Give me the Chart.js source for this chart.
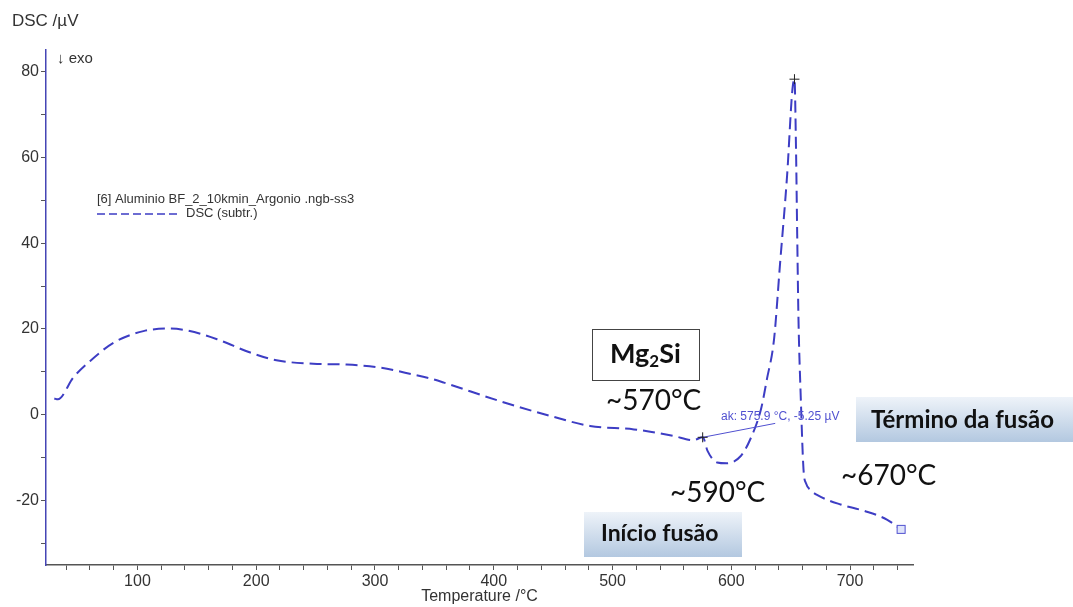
<!DOCTYPE html>
<html>
<head>
<meta charset="utf-8">
<title>DSC - Aluminio BF_2 10 K/min Argonio</title>
<script src="https://cdn.jsdelivr.net/npm/chart.js@4/dist/chart.umd.min.js"></script>
<style>
  html, body { margin: 0; padding: 0; background: #fff; }
  #wrap { width: 1073px; height: 607px; }
</style>
</head>
<body>
<div id="wrap"><canvas id="dscChart" width="1073" height="607"></canvas></div>
<script>
// DSC curve (subtracted), temperature in °C, signal in µV
const temperature = [30, 33, 46, 60, 80, 105, 127, 141, 167, 195, 217, 248, 276, 304, 332, 346, 358,
  405, 448, 481, 518, 551, 568, 576, 580, 588, 596, 608, 616, 625, 630, 636, 641, 647, 651.5, 653.2,
  654.5, 655.5, 656.6, 658.5, 660.8, 663, 667, 673, 692, 712, 731, 743];
const dscSignal = [3.8, 3.6, 8.7, 12.5, 16.8, 19.5, 20.1, 19.7, 17.6, 14.5, 12.7, 11.9, 11.7, 11.0, 9.4, 8.5, 7.5,
  3.2, -0.3, -2.6, -3.4, -4.9, -5.9, -5.25, -8.4, -11.1, -11.3, -9.6, -5.7, 1.3, 8.3, 17.6, 35, 55.8, 75.9, 78.2,
  62, 42, 22, 4, -12.7, -16, -17.6, -18.8, -20.9, -22.4, -24.4, -26.7];

// evaluated onset peak and its baseline tangent
const onsetPeak = [575.9, -5.25];
const tangentEnd = [637, -2.0];

const xTickLabels = [100, 200, 300, 400, 500, 600, 700];
const yTickLabels = [-20, 0, 20, 40, 60, 80];

const LINE_BLUE = '#3d3dc4';
const AXIS_FONT = 'Liberation Sans, Arial, sans-serif';
const NOTE_FONT = 'Lato, "Open Sans", sans-serif';

// tick marks every `step` inside [min, max]
function stepTicks(min, max, step) {
  const out = [];
  for (let v = Math.ceil(min / step) * step; v <= max; v += step) out.push({ value: v });
  return out;
}

function gradientBox(ctx, x, y, w, h) {
  const g = ctx.createLinearGradient(0, y, 0, y + h);
  g.addColorStop(0, '#eef3f9');
  g.addColorStop(1, '#b3c8e0');
  ctx.fillStyle = g;
  ctx.fillRect(x, y, w, h);
}

function cross(ctx, px, py, size) {
  ctx.beginPath();
  ctx.moveTo(px - size, py);
  ctx.lineTo(px + size, py);
  ctx.moveTo(px, py - size);
  ctx.lineTo(px, py + size);
  ctx.stroke();
}

const overlay = {
  id: 'overlay',
  afterDatasetsDraw(chart) {
    const { ctx, scales: { x, y } } = chart;
    ctx.save();

    // axis captions
    ctx.fillStyle = '#333';
    ctx.textBaseline = 'middle';
    ctx.textAlign = 'left';
    ctx.font = '17px ' + AXIS_FONT;
    ctx.fillText('DSC /µV', 12, 21);
    ctx.font = '15px ' + AXIS_FONT;
    ctx.fillText('↓ exo', 57, 59);

    // legend
    ctx.font = '13px ' + AXIS_FONT;
    ctx.fillText('[6] Aluminio BF_2_10kmin_Argonio .ngb-ss3', 97, 199);
    ctx.fillText('DSC (subtr.)', 186, 213);
    ctx.strokeStyle = LINE_BLUE;
    ctx.lineWidth = 1.5;
    ctx.setLineDash([8, 4]);
    ctx.beginPath();
    ctx.moveTo(97, 214);
    ctx.lineTo(179, 214);
    ctx.stroke();
    ctx.setLineDash([]);

    // onset evaluation: tangent + crosshair + value text
    const ox = x.getPixelForValue(onsetPeak[0]);
    const oy = y.getPixelForValue(onsetPeak[1]);
    ctx.strokeStyle = '#5050d0';
    ctx.lineWidth = 1;
    ctx.beginPath();
    ctx.moveTo(ox, oy);
    ctx.lineTo(x.getPixelForValue(tangentEnd[0]), y.getPixelForValue(tangentEnd[1]));
    ctx.stroke();
    ctx.strokeStyle = '#222';
    cross(ctx, ox, oy, 5);
    ctx.fillStyle = '#5050d0';
    ctx.font = '12px ' + AXIS_FONT;
    ctx.fillText('ak: ' + onsetPeak[0].toFixed(1) + ' °C, ' + onsetPeak[1].toFixed(2) + ' µV', 721, 417);

    // main peak marker
    let top = 0;
    dscSignal.forEach((v, i) => { if (v > dscSignal[top]) top = i; });
    ctx.strokeStyle = '#222';
    cross(ctx, x.getPixelForValue(temperature[top]), y.getPixelForValue(dscSignal[top]), 5);

    // end-of-curve marker
    const last = temperature.length - 1;
    const ex = x.getPixelForValue(temperature[last]);
    const ey = y.getPixelForValue(dscSignal[last]);
    ctx.strokeStyle = '#5050d0';
    ctx.fillStyle = '#dfe4fa';
    ctx.fillRect(ex - 4, ey - 4, 8, 8);
    ctx.strokeRect(ex - 4, ey - 4, 8, 8);

    // phase notes
    ctx.fillStyle = '#fff';
    ctx.fillRect(592, 329, 107, 51);
    ctx.strokeStyle = '#444';
    ctx.lineWidth = 1;
    ctx.strokeRect(592.5, 329.5, 107, 51);
    ctx.fillStyle = '#111';
    ctx.textAlign = 'left';
    ctx.font = 'bold 27px ' + NOTE_FONT;
    const mgW = ctx.measureText('Mg').width;
    ctx.fillText('Mg', 610, 354);
    ctx.font = 'bold 17px ' + NOTE_FONT;
    ctx.fillText('2', 610 + mgW, 362);
    const subW = ctx.measureText('2').width;
    ctx.font = 'bold 27px ' + NOTE_FONT;
    ctx.fillText('Si', 610 + mgW + subW, 354);

    ctx.font = '28px ' + NOTE_FONT;
    ctx.fillText('~570°C', 606, 401);
    ctx.fillText('~590°C', 670, 493);
    ctx.fillText('~670°C', 841, 476);

    gradientBox(ctx, 856, 397, 217, 45);
    gradientBox(ctx, 584, 512, 158, 45);
    ctx.fillStyle = '#111';
    ctx.font = 'bold 24px ' + NOTE_FONT;
    ctx.fillText('Término da fusão', 871, 420);
    ctx.font = 'bold 23px ' + NOTE_FONT;
    ctx.fillText('Início fusão', 601, 534);

    ctx.restore();
  }
};

new Chart(document.getElementById('dscChart'), {
  type: 'line',
  data: {
    datasets: [{
      label: 'DSC (subtr.)',
      data: temperature.map((t, i) => ({ x: t, y: dscSignal[i] })),
      borderColor: LINE_BLUE,
      borderWidth: 2,
      borderDash: [12, 6],
      pointRadius: 0,
      fill: false,
      cubicInterpolationMode: 'monotone'
    }]
  },
  options: {
    responsive: false,
    animation: false,
    devicePixelRatio: 1,
    layout: { padding: { top: 50, right: 160, left: 0, bottom: 0 } },
    plugins: { legend: { display: false }, tooltip: { enabled: false } },
    scales: {
      x: {
        type: 'linear',
        min: 23,
        max: 753,
        afterFit: s => { s.height = 42; },
        afterBuildTicks: s => { s.ticks = stepTicks(s.min, s.max, 20); },
        border: { color: '#555', width: 1.5 },
        grid: { drawOnChartArea: false, tickLength: 5, color: '#555' },
        ticks: {
          autoSkip: false,
          maxRotation: 0,
          padding: 2,
          color: '#333',
          font: { family: AXIS_FONT, size: 16 },
          callback: v => xTickLabels.includes(v) ? v : ''
        },
        title: {
          display: true,
          text: 'Temperature /°C',
          color: '#333',
          font: { family: AXIS_FONT, size: 16 },
          padding: { top: 0, bottom: 1 }
        }
      },
      y: {
        min: -35,
        max: 85,
        afterFit: s => { s.width = 46; },
        afterBuildTicks: s => { s.ticks = stepTicks(s.min, s.max, 10); },
        border: { color: '#4545b5', width: 1.5 },
        grid: { drawOnChartArea: false, tickLength: 5, color: '#555' },
        ticks: {
          autoSkip: false,
          padding: 2,
          color: '#333',
          font: { family: AXIS_FONT, size: 16 },
          callback: v => yTickLabels.includes(v) ? v : ''
        }
      }
    }
  },
  plugins: [overlay]
});
</script>
</body>
</html>
